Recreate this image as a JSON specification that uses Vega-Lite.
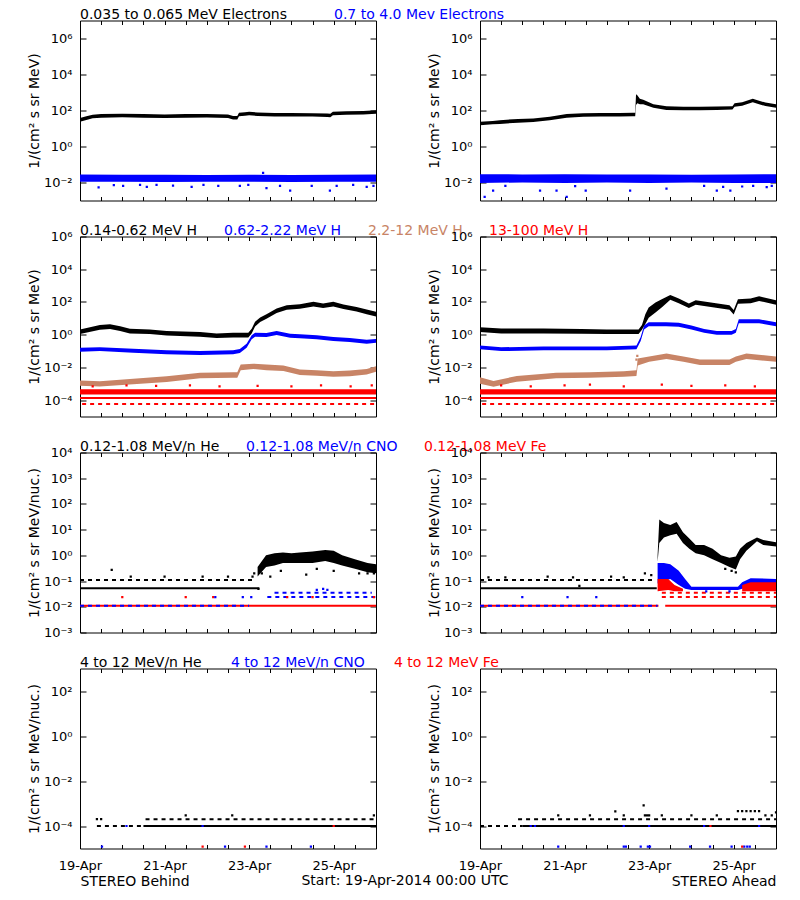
{
"$schema":"https://vega.github.io/schema/vega-lite/v6.json",
"background":"white",
"padding":{"left":26,"top":6.5,"right":5,"bottom":5},
"bounds":"flush",
"columns":2,
"spacing":{"row":36,"column":104},
"config":{"font":"DejaVu Sans","view":{"stroke":"#000000","strokeWidth":1},
"axis":{"grid":false,"domain":false,"tickColor":"#000000","tickWidth":1,"labelColor":"#000000","labelFontSize":13,"labelFont":"DejaVu Sans","titleFont":"DejaVu Sans","titleFontSize":14,"titleFontWeight":"normal","titleColor":"#000000","labelOverlap":false,"labelBound":false,"labelFlush":false},
"legend":{"labelFont":"DejaVu Sans"},
"title":{"font":"DejaVu Sans","fontSize":14,"fontWeight":"normal","color":"#000000"}},
"title":{"text":"Start: 19-Apr-2014 00:00 UTC","orient":"bottom","anchor":"middle","frame":"bounds","offset":-15,"dx":3},
"resolve":{"scale":{"color":"independent"},"legend":{"color":"independent"}},
"datasets":{
"bd":[
{"p":"B1","s":"eL","d":0,"lo":24,"hi":38},{"p":"B1","s":"eL","d":0.15,"lo":30,"hi":48},{"p":"B1","s":"eL","d":0.3,"lo":37,"hi":58},{"p":"B1","s":"eL","d":0.5,"lo":40,"hi":63},{"p":"B1","s":"eL","d":1,"lo":42,"hi":65},{"p":"B1","s":"eL","d":1.5,"lo":40,"hi":63},{"p":"B1","s":"eL","d":2,"lo":38,"hi":60},{"p":"B1","s":"eL","d":2.5,"lo":40,"hi":63},{"p":"B1","s":"eL","d":3,"lo":41,"hi":64},{"p":"B1","s":"eL","d":3.5,"lo":38,"hi":60},{"p":"B1","s":"eL","d":3.62,"lo":32,"hi":50},{"p":"B1","s":"eL","d":3.72,"lo":32,"hi":50},{"p":"B1","s":"eL","d":3.76,"lo":48,"hi":75},{"p":"B1","s":"eL","d":3.9,"lo":51,"hi":80},{"p":"B1","s":"eL","d":4,"lo":54,"hi":85},{"p":"B1","s":"eL","d":4.2,"lo":50,"hi":78},{"p":"B1","s":"eL","d":4.6,"lo":46,"hi":73},{"p":"B1","s":"eL","d":5,"lo":46,"hi":73},{"p":"B1","s":"eL","d":5.5,"lo":46,"hi":71},{"p":"B1","s":"eL","d":5.85,"lo":44,"hi":69},{"p":"B1","s":"eL","d":5.92,"lo":42,"hi":65},{"p":"B1","s":"eL","d":5.98,"lo":54,"hi":85},{"p":"B1","s":"eL","d":6.3,"lo":58,"hi":90},{"p":"B1","s":"eL","d":6.7,"lo":60,"hi":94},{"p":"B1","s":"eL","d":7,"lo":66,"hi":103},
{"p":"B1","s":"eH","d":0,"lo":0.011,"hi":0.028},{"p":"B1","s":"eH","d":1,"lo":0.011,"hi":0.027},{"p":"B1","s":"eH","d":2,"lo":0.0105,"hi":0.027},{"p":"B1","s":"eH","d":3,"lo":0.011,"hi":0.026},{"p":"B1","s":"eH","d":4,"lo":0.011,"hi":0.027},{"p":"B1","s":"eH","d":5,"lo":0.0105,"hi":0.026},{"p":"B1","s":"eH","d":6,"lo":0.011,"hi":0.027},{"p":"B1","s":"eH","d":7,"lo":0.011,"hi":0.028},
{"p":"A1","s":"eL","d":0,"lo":15,"hi":24},{"p":"A1","s":"eL","d":0.3,"lo":17,"hi":26},{"p":"A1","s":"eL","d":0.47,"lo":18,"hi":29},{"p":"A1","s":"eL","d":0.9,"lo":21,"hi":34},{"p":"A1","s":"eL","d":1.26,"lo":23,"hi":36},{"p":"A1","s":"eL","d":1.65,"lo":29,"hi":45},{"p":"A1","s":"eL","d":2.05,"lo":40,"hi":63},{"p":"A1","s":"eL","d":2.44,"lo":45,"hi":71},{"p":"A1","s":"eL","d":2.84,"lo":46,"hi":73},{"p":"A1","s":"eL","d":3.3,"lo":46,"hi":73},{"p":"A1","s":"eL","d":3.62,"lo":48,"hi":75},{"p":"A1","s":"eL","d":3.67,"lo":48,"hi":75},{"p":"A1","s":"eL","d":3.69,"lo":200,"hi":800},{"p":"A1","s":"eL","d":3.72,"lo":250,"hi":700},{"p":"A1","s":"eL","d":3.78,"lo":220,"hi":450},{"p":"A1","s":"eL","d":3.86,"lo":220,"hi":400},{"p":"A1","s":"eL","d":4.1,"lo":144,"hi":225},{"p":"A1","s":"eL","d":4.41,"lo":108,"hi":170},{"p":"A1","s":"eL","d":4.81,"lo":104,"hi":163},{"p":"A1","s":"eL","d":5.2,"lo":104,"hi":163},{"p":"A1","s":"eL","d":5.6,"lo":106,"hi":165},{"p":"A1","s":"eL","d":5.97,"lo":112,"hi":175},{"p":"A1","s":"eL","d":6.02,"lo":160,"hi":250},{"p":"A1","s":"eL","d":6.2,"lo":184,"hi":288},{"p":"A1","s":"eL","d":6.45,"lo":290,"hi":450},{"p":"A1","s":"eL","d":6.6,"lo":224,"hi":350},{"p":"A1","s":"eL","d":6.75,"lo":176,"hi":275},{"p":"A1","s":"eL","d":7,"lo":144,"hi":225},
{"p":"A1","s":"eH","d":0,"lo":0.0095,"hi":0.029},{"p":"A1","s":"eH","d":1,"lo":0.01,"hi":0.028},{"p":"A1","s":"eH","d":2,"lo":0.0095,"hi":0.029},{"p":"A1","s":"eH","d":3,"lo":0.01,"hi":0.028},{"p":"A1","s":"eH","d":4,"lo":0.0095,"hi":0.028},{"p":"A1","s":"eH","d":5,"lo":0.01,"hi":0.027},{"p":"A1","s":"eH","d":6,"lo":0.0095,"hi":0.028},{"p":"A1","s":"eH","d":7,"lo":0.0095,"hi":0.029},
{"p":"B2","s":"H1","d":0,"lo":1.1,"hi":2.1},{"p":"B2","s":"H1","d":0.47,"lo":2.0,"hi":3.9},{"p":"B2","s":"H1","d":0.71,"lo":2.2,"hi":4.3},{"p":"B2","s":"H1","d":0.95,"lo":1.7,"hi":3.3},{"p":"B2","s":"H1","d":1.18,"lo":1.2,"hi":2.3},{"p":"B2","s":"H1","d":1.65,"lo":1.1,"hi":2.1},{"p":"B2","s":"H1","d":2.05,"lo":0.9,"hi":1.7},{"p":"B2","s":"H1","d":2.84,"lo":0.76,"hi":1.45},{"p":"B2","s":"H1","d":3.23,"lo":0.63,"hi":1.2},{"p":"B2","s":"H1","d":3.62,"lo":0.68,"hi":1.3},{"p":"B2","s":"H1","d":3.98,"lo":0.68,"hi":1.3},{"p":"B2","s":"H1","d":4.06,"lo":1.2,"hi":2.3},{"p":"B2","s":"H1","d":4.14,"lo":3.2,"hi":6.1},{"p":"B2","s":"H1","d":4.26,"lo":5.9,"hi":11.3},{"p":"B2","s":"H1","d":4.41,"lo":9.4,"hi":18},{"p":"B2","s":"H1","d":4.65,"lo":21,"hi":40},{"p":"B2","s":"H1","d":4.89,"lo":33,"hi":63},{"p":"B2","s":"H1","d":5.2,"lo":38,"hi":73},{"p":"B2","s":"H1","d":5.52,"lo":53,"hi":102},{"p":"B2","s":"H1","d":5.75,"lo":42,"hi":81},{"p":"B2","s":"H1","d":5.99,"lo":53,"hi":102},{"p":"B2","s":"H1","d":6.23,"lo":37,"hi":70},{"p":"B2","s":"H1","d":6.54,"lo":26,"hi":50},{"p":"B2","s":"H1","d":6.78,"lo":18,"hi":35},{"p":"B2","s":"H1","d":7,"lo":13,"hi":25},
{"p":"B2","s":"H2","d":0,"lo":0.091,"hi":0.158},{"p":"B2","s":"H2","d":0.47,"lo":0.099,"hi":0.17},{"p":"B2","s":"H2","d":1.26,"lo":0.08,"hi":0.139},{"p":"B2","s":"H2","d":2.05,"lo":0.063,"hi":0.11},{"p":"B2","s":"H2","d":2.84,"lo":0.058,"hi":0.1},{"p":"B2","s":"H2","d":3.62,"lo":0.063,"hi":0.11},{"p":"B2","s":"H2","d":3.78,"lo":0.076,"hi":0.132},{"p":"B2","s":"H2","d":3.94,"lo":0.16,"hi":0.28},{"p":"B2","s":"H2","d":4.06,"lo":0.52,"hi":0.91},{"p":"B2","s":"H2","d":4.14,"lo":0.76,"hi":1.32},{"p":"B2","s":"H2","d":4.41,"lo":0.72,"hi":1.25},{"p":"B2","s":"H2","d":4.65,"lo":0.95,"hi":1.65},{"p":"B2","s":"H2","d":4.97,"lo":0.66,"hi":1.15},{"p":"B2","s":"H2","d":5.2,"lo":0.61,"hi":1.06},{"p":"B2","s":"H2","d":5.6,"lo":0.52,"hi":0.91},{"p":"B2","s":"H2","d":5.99,"lo":0.41,"hi":0.71},{"p":"B2","s":"H2","d":6.38,"lo":0.36,"hi":0.62},{"p":"B2","s":"H2","d":6.78,"lo":0.28,"hi":0.49},{"p":"B2","s":"H2","d":7,"lo":0.32,"hi":0.55},
{"p":"B2","s":"H3","d":0,"lo":0.00075,"hi":0.0016},{"p":"B2","s":"H3","d":0.47,"lo":0.00067,"hi":0.00145},{"p":"B2","s":"H3","d":1.26,"lo":0.00092,"hi":0.002},{"p":"B2","s":"H3","d":2.05,"lo":0.0013,"hi":0.0029},{"p":"B2","s":"H3","d":2.84,"lo":0.0022,"hi":0.0047},{"p":"B2","s":"H3","d":3.62,"lo":0.0023,"hi":0.005},{"p":"B2","s":"H3","d":3.72,"lo":0.0023,"hi":0.005},{"p":"B2","s":"H3","d":3.8,"lo":0.0068,"hi":0.0148},{"p":"B2","s":"H3","d":4.1,"lo":0.008,"hi":0.017},{"p":"B2","s":"H3","d":4.41,"lo":0.0068,"hi":0.0148},{"p":"B2","s":"H3","d":4.81,"lo":0.006,"hi":0.013},{"p":"B2","s":"H3","d":5.2,"lo":0.0034,"hi":0.0074},{"p":"B2","s":"H3","d":5.6,"lo":0.0031,"hi":0.0068},{"p":"B2","s":"H3","d":5.99,"lo":0.0027,"hi":0.0059},{"p":"B2","s":"H3","d":6.38,"lo":0.0029,"hi":0.0064},{"p":"B2","s":"H3","d":6.78,"lo":0.0037,"hi":0.0081},{"p":"B2","s":"H3","d":7,"lo":0.0054,"hi":0.0118},
{"p":"B2","s":"H4","d":0,"lo":0.00022,"hi":0.00046},{"p":"B2","s":"H4","d":7,"lo":0.00022,"hi":0.00046},
{"p":"A2","s":"H1","d":0,"lo":1.45,"hi":2.8},{"p":"A2","s":"H1","d":0.5,"lo":1.2,"hi":2.35},{"p":"A2","s":"H1","d":1.5,"lo":1.2,"hi":2.35},{"p":"A2","s":"H1","d":2.4,"lo":1.15,"hi":2.2},{"p":"A2","s":"H1","d":3,"lo":1.1,"hi":2.1},{"p":"A2","s":"H1","d":3.75,"lo":1.1,"hi":2.1},{"p":"A2","s":"H1","d":3.83,"lo":2.0,"hi":3.9},{"p":"A2","s":"H1","d":3.91,"lo":4.5,"hi":18},{"p":"A2","s":"H1","d":3.99,"lo":11,"hi":46},{"p":"A2","s":"H1","d":4.15,"lo":23,"hi":92},{"p":"A2","s":"H1","d":4.31,"lo":50,"hi":150},{"p":"A2","s":"H1","d":4.5,"lo":137,"hi":262},{"p":"A2","s":"H1","d":4.7,"lo":84,"hi":161},{"p":"A2","s":"H1","d":4.94,"lo":42,"hi":81},{"p":"A2","s":"H1","d":5.1,"lo":67,"hi":128},{"p":"A2","s":"H1","d":5.5,"lo":47,"hi":90},{"p":"A2","s":"H1","d":5.9,"lo":33,"hi":63},{"p":"A2","s":"H1","d":6,"lo":17,"hi":32},{"p":"A2","s":"H1","d":6.1,"lo":77,"hi":148},{"p":"A2","s":"H1","d":6.4,"lo":84,"hi":161},{"p":"A2","s":"H1","d":6.6,"lo":115,"hi":221},{"p":"A2","s":"H1","d":7,"lo":67,"hi":128},
{"p":"A2","s":"H2","d":0,"lo":0.13,"hi":0.22},{"p":"A2","s":"H2","d":0.5,"lo":0.1,"hi":0.17},{"p":"A2","s":"H2","d":1.5,"lo":0.11,"hi":0.19},{"p":"A2","s":"H2","d":3,"lo":0.11,"hi":0.19},{"p":"A2","s":"H2","d":3.7,"lo":0.13,"hi":0.22},{"p":"A2","s":"H2","d":3.8,"lo":0.41,"hi":0.71},{"p":"A2","s":"H2","d":3.88,"lo":2.1,"hi":3.7},{"p":"A2","s":"H2","d":3.99,"lo":3.3,"hi":5.8},{"p":"A2","s":"H2","d":4.4,"lo":3.3,"hi":5.8},{"p":"A2","s":"H2","d":4.7,"lo":3.0,"hi":5.3},{"p":"A2","s":"H2","d":5,"lo":2.1,"hi":3.7},{"p":"A2","s":"H2","d":5.3,"lo":1.3,"hi":2.2},{"p":"A2","s":"H2","d":5.6,"lo":1.0,"hi":1.7},{"p":"A2","s":"H2","d":5.95,"lo":1.0,"hi":1.7},{"p":"A2","s":"H2","d":6.05,"lo":1.3,"hi":2.2},{"p":"A2","s":"H2","d":6.12,"lo":5.0,"hi":8.7},{"p":"A2","s":"H2","d":6.6,"lo":5.0,"hi":8.7},{"p":"A2","s":"H2","d":7,"lo":3.3,"hi":5.8},
{"p":"A2","s":"H3","d":0,"lo":0.001,"hi":0.0025},{"p":"A2","s":"H3","d":0.32,"lo":0.00065,"hi":0.0015},{"p":"A2","s":"H3","d":0.87,"lo":0.00135,"hi":0.003},{"p":"A2","s":"H3","d":1.8,"lo":0.0022,"hi":0.0047},{"p":"A2","s":"H3","d":2.6,"lo":0.0023,"hi":0.005},{"p":"A2","s":"H3","d":3.4,"lo":0.0027,"hi":0.0059},{"p":"A2","s":"H3","d":3.7,"lo":0.003,"hi":0.0067},{"p":"A2","s":"H3","d":3.73,"lo":0.013,"hi":0.035},{"p":"A2","s":"H3","d":4,"lo":0.022,"hi":0.047},{"p":"A2","s":"H3","d":4.41,"lo":0.033,"hi":0.07},{"p":"A2","s":"H3","d":4.81,"lo":0.022,"hi":0.047},{"p":"A2","s":"H3","d":5.2,"lo":0.014,"hi":0.03},{"p":"A2","s":"H3","d":5.9,"lo":0.014,"hi":0.03},{"p":"A2","s":"H3","d":6.05,"lo":0.022,"hi":0.047},{"p":"A2","s":"H3","d":6.3,"lo":0.033,"hi":0.07},{"p":"A2","s":"H3","d":7,"lo":0.022,"hi":0.047},
{"p":"A2","s":"H4","d":0,"lo":0.00022,"hi":0.00046},{"p":"A2","s":"H4","d":7,"lo":0.00022,"hi":0.00046},
{"p":"B3","s":"He","d":4.2,"lo":0.15,"hi":0.35},{"p":"B3","s":"He","d":4.4,"lo":0.35,"hi":1.0},{"p":"B3","s":"He","d":4.6,"lo":0.4,"hi":1.2},{"p":"B3","s":"He","d":4.8,"lo":0.5,"hi":1.3},{"p":"B3","s":"He","d":5,"lo":0.5,"hi":1.2},{"p":"B3","s":"He","d":5.2,"lo":0.5,"hi":1.3},{"p":"B3","s":"He","d":5.5,"lo":0.5,"hi":1.4},{"p":"B3","s":"He","d":5.8,"lo":0.6,"hi":1.6},{"p":"B3","s":"He","d":6,"lo":0.5,"hi":1.5},{"p":"B3","s":"He","d":6.2,"lo":0.4,"hi":1.0},{"p":"B3","s":"He","d":6.5,"lo":0.3,"hi":0.7},{"p":"B3","s":"He","d":6.8,"lo":0.22,"hi":0.5},{"p":"B3","s":"He","d":7,"lo":0.2,"hi":0.45},
{"p":"A3","s":"He","d":4.2,"lo":0.55,"hi":1.0},{"p":"A3","s":"He","d":4.24,"lo":3,"hi":25},{"p":"A3","s":"He","d":4.35,"lo":5,"hi":18},{"p":"A3","s":"He","d":4.5,"lo":6,"hi":15},{"p":"A3","s":"He","d":4.65,"lo":7,"hi":20},{"p":"A3","s":"He","d":4.8,"lo":3,"hi":8},{"p":"A3","s":"He","d":4.95,"lo":1.8,"hi":4.5},{"p":"A3","s":"He","d":5.1,"lo":1.2,"hi":2.5},{"p":"A3","s":"He","d":5.3,"lo":1.0,"hi":2.5},{"p":"A3","s":"He","d":5.5,"lo":0.7,"hi":1.8},{"p":"A3","s":"He","d":5.7,"lo":0.5,"hi":1.0},{"p":"A3","s":"He","d":5.9,"lo":0.35,"hi":0.8},{"p":"A3","s":"He","d":6.05,"lo":0.28,"hi":0.9},{"p":"A3","s":"He","d":6.15,"lo":0.7,"hi":1.8},{"p":"A3","s":"He","d":6.3,"lo":1.5,"hi":3},{"p":"A3","s":"He","d":6.55,"lo":3.5,"hi":5},{"p":"A3","s":"He","d":6.7,"lo":2.5,"hi":4},{"p":"A3","s":"He","d":7,"lo":2.2,"hi":3.2},
{"p":"A3","s":"CNO","d":4.2,"lo":0.08,"hi":0.5},{"p":"A3","s":"CNO","d":4.35,"lo":0.1,"hi":0.5},{"p":"A3","s":"CNO","d":4.5,"lo":0.12,"hi":0.45},{"p":"A3","s":"CNO","d":4.7,"lo":0.07,"hi":0.25},{"p":"A3","s":"CNO","d":4.85,"lo":0.05,"hi":0.12},{"p":"A3","s":"CNO","d":5,"lo":0.045,"hi":0.06},{"p":"A3","s":"CNO","d":6.1,"lo":0.045,"hi":0.06},{"p":"A3","s":"CNO","d":6.2,"lo":0.05,"hi":0.09},{"p":"A3","s":"CNO","d":6.4,"lo":0.06,"hi":0.13},{"p":"A3","s":"CNO","d":7,"lo":0.06,"hi":0.12},
{"p":"A3","s":"Fe","c":"a","d":4.2,"lo":0.04,"hi":0.12},{"p":"A3","s":"Fe","c":"a","d":4.45,"lo":0.045,"hi":0.12},{"p":"A3","s":"Fe","c":"a","d":4.6,"lo":0.04,"hi":0.07},{"p":"A3","s":"Fe","c":"a","d":4.8,"lo":0.04,"hi":0.05},
{"p":"A3","s":"Fe","c":"b","d":6.2,"lo":0.04,"hi":0.07},{"p":"A3","s":"Fe","c":"b","d":6.4,"lo":0.04,"hi":0.09},{"p":"A3","s":"Fe","c":"b","d":7,"lo":0.04,"hi":0.09}
],
"ln":[
{"p":"B2","s":"H4","d":0,"v":0.000135},{"p":"B2","s":"H4","d":7,"v":0.000135},
{"p":"A2","s":"H4","d":0,"v":0.000135},{"p":"A2","s":"H4","d":7,"v":0.000135},
{"p":"B3","s":"He","d":0,"v":0.052},{"p":"B3","s":"He","d":4.24,"v":0.052},
{"p":"B3","s":"Fe","d":0,"v":0.011},{"p":"B3","s":"Fe","d":7,"v":0.011},
{"p":"A3","s":"He","d":0,"v":0.052},{"p":"A3","s":"He","d":4.18,"v":0.052},
{"p":"A3","s":"Fe","c":"l1","d":0,"v":0.011},{"p":"A3","s":"Fe","c":"l1","d":4.22,"v":0.011},
{"p":"A3","s":"Fe","c":"l2","d":4.38,"v":0.011},{"p":"A3","s":"Fe","c":"l2","d":7,"v":0.011},
{"p":"B4","s":"He","d":1.5,"v":0.0001},{"p":"B4","s":"He","d":7,"v":0.0001},
{"p":"A4","s":"He","d":1,"v":0.0001},{"p":"A4","s":"He","d":7,"v":0.0001}
],
"dl":[
{"p":"B2","s":"H4","d":0.05,"v":0.000059},{"p":"B2","s":"H4","d":7,"v":0.000059},
{"p":"A2","s":"H4","d":0.05,"v":0.000059},{"p":"A2","s":"H4","d":7,"v":0.000059},
{"p":"B3","s":"He","d":0,"v":0.11},{"p":"B3","s":"He","d":4.15,"v":0.11},
{"p":"B3","s":"CNO","c":"d1","d":0,"v":0.011},{"p":"B3","s":"CNO","c":"d1","d":4,"v":0.011},
{"p":"B3","s":"CNO","c":"d2","d":4.43,"v":0.024},{"p":"B3","s":"CNO","c":"d2","d":7,"v":0.024},
{"p":"B3","s":"CNO","c":"d3","d":4.6,"v":0.035},{"p":"B3","s":"CNO","c":"d3","d":6.9,"v":0.035},
{"p":"A3","s":"He","d":0,"v":0.11},{"p":"A3","s":"He","d":4.15,"v":0.11},
{"p":"A3","s":"CNO","d":0,"v":0.011},{"p":"A3","s":"CNO","d":4.2,"v":0.011},
{"p":"A3","s":"Fe","c":"d3","d":4.3,"v":0.035},{"p":"A3","s":"Fe","c":"d3","d":7,"v":0.035},
{"p":"A3","s":"Fe","c":"d4","d":4.3,"v":0.024},{"p":"A3","s":"Fe","c":"d4","d":7,"v":0.024},
{"p":"B4","s":"He","c":"d1","d":0.4,"v":0.0001},{"p":"B4","s":"He","c":"d1","d":1.5,"v":0.0001},
{"p":"B4","s":"He","c":"d2","d":1.55,"v":0.0002},{"p":"B4","s":"He","c":"d2","d":7,"v":0.0002},
{"p":"A4","s":"He","c":"d1","d":0,"v":0.0001},{"p":"A4","s":"He","c":"d1","d":1,"v":0.0001},
{"p":"A4","s":"He","c":"d2","d":0.9,"v":0.0002},{"p":"A4","s":"He","c":"d2","d":7,"v":0.0002}
],
"pt":[
{"p":"B1","s":"eH","d":0.44,"v":0.0053},{"p":"B1","s":"eH","d":0.8,"v":0.0072},{"p":"B1","s":"eH","d":1.02,"v":0.0065},{"p":"B1","s":"eH","d":1.42,"v":0.0074},{"p":"B1","s":"eH","d":1.58,"v":0.0058},{"p":"B1","s":"eH","d":1.81,"v":0.0074},{"p":"B1","s":"eH","d":2.2,"v":0.0068},{"p":"B1","s":"eH","d":2.64,"v":0.0058},{"p":"B1","s":"eH","d":2.92,"v":0.0074},{"p":"B1","s":"eH","d":3.27,"v":0.0065},{"p":"B1","s":"eH","d":3.78,"v":0.0065},{"p":"B1","s":"eH","d":3.98,"v":0.0074},{"p":"B1","s":"eH","d":4.33,"v":0.034},{"p":"B1","s":"eH","d":4.41,"v":0.0049},{"p":"B1","s":"eH","d":4.73,"v":0.0065},{"p":"B1","s":"eH","d":4.97,"v":0.0035},{"p":"B1","s":"eH","d":5.48,"v":0.0065},{"p":"B1","s":"eH","d":5.91,"v":0.0035},{"p":"B1","s":"eH","d":6.07,"v":0.0065},{"p":"B1","s":"eH","d":6.46,"v":0.0074},{"p":"B1","s":"eH","d":6.78,"v":0.0058},{"p":"B1","s":"eH","d":6.94,"v":0.0065},
{"p":"A1","s":"eH","d":0.11,"v":0.0016},{"p":"A1","s":"eH","d":0.31,"v":0.0035},{"p":"A1","s":"eH","d":0.6,"v":0.0065},{"p":"A1","s":"eH","d":1.42,"v":0.0035},{"p":"A1","s":"eH","d":1.81,"v":0.0035},{"p":"A1","s":"eH","d":2.05,"v":0.0016},{"p":"A1","s":"eH","d":2.25,"v":0.0062},{"p":"A1","s":"eH","d":2.5,"v":0.0035},{"p":"A1","s":"eH","d":3.55,"v":0.0035},{"p":"A1","s":"eH","d":4.41,"v":0.0045},{"p":"A1","s":"eH","d":5.3,"v":0.0065},{"p":"A1","s":"eH","d":5.6,"v":0.0035},{"p":"A1","s":"eH","d":5.75,"v":0.0058},{"p":"A1","s":"eH","d":5.92,"v":0.0035},{"p":"A1","s":"eH","d":6.2,"v":0.006},{"p":"A1","s":"eH","d":6.46,"v":0.0065},{"p":"A1","s":"eH","d":6.78,"v":0.0055},{"p":"A1","s":"eH","d":6.9,"v":0.0065},
{"p":"B2","s":"H4","d":0.3,"v":0.0007},{"p":"B2","s":"H4","d":1.1,"v":0.0008},{"p":"B2","s":"H4","d":1.8,"v":0.00075},{"p":"B2","s":"H4","d":2.6,"v":0.0008},{"p":"B2","s":"H4","d":3.3,"v":0.0007},{"p":"B2","s":"H4","d":4.2,"v":0.00075},{"p":"B2","s":"H4","d":5,"v":0.0007},{"p":"B2","s":"H4","d":5.7,"v":0.0008},{"p":"B2","s":"H4","d":6.4,"v":0.0007},{"p":"B2","s":"H4","d":6.9,"v":0.0008},
{"p":"A2","s":"H4","d":0.5,"v":0.0008},{"p":"A2","s":"H4","d":1.2,"v":0.0007},{"p":"A2","s":"H4","d":2,"v":0.0008},{"p":"A2","s":"H4","d":2.6,"v":0.0009},{"p":"A2","s":"H4","d":3.4,"v":0.0007},{"p":"A2","s":"H4","d":4.3,"v":0.0009},{"p":"A2","s":"H4","d":5,"v":0.00075},{"p":"A2","s":"H4","d":5.8,"v":0.0008},{"p":"A2","s":"H4","d":6.5,"v":0.0007},
{"p":"A2","s":"H3","d":3.7,"v":0.03},{"p":"A2","s":"H3","d":3.72,"v":0.05},
{"p":"B3","s":"He","d":0.75,"v":0.27},{"p":"B3","s":"He","d":1.2,"v":0.15},{"p":"B3","s":"He","d":2,"v":0.15},{"p":"B3","s":"He","d":2.9,"v":0.15},{"p":"B3","s":"He","d":3.5,"v":0.15},{"p":"B3","s":"He","d":4.08,"v":0.15},{"p":"B3","s":"He","d":4.12,"v":0.2},{"p":"B3","s":"He","d":4.22,"v":0.05},{"p":"B3","s":"He","d":4.3,"v":0.2},{"p":"B3","s":"He","d":4.5,"v":0.15},{"p":"B3","s":"He","d":4.75,"v":0.25},{"p":"B3","s":"He","d":5.35,"v":0.18},{"p":"B3","s":"He","d":5.6,"v":0.3},{"p":"B3","s":"He","d":6,"v":0.25},{"p":"B3","s":"He","d":6.6,"v":0.2},{"p":"B3","s":"He","d":6.8,"v":0.2},{"p":"B3","s":"He","d":6.95,"v":0.2},
{"p":"B3","s":"Fe","d":1,"v":0.024},{"p":"B3","s":"Fe","d":2.5,"v":0.024},{"p":"B3","s":"Fe","d":3.15,"v":0.024},{"p":"B3","s":"Fe","d":4.9,"v":0.024},{"p":"B3","s":"Fe","d":5.5,"v":0.024},{"p":"B3","s":"Fe","d":6.95,"v":0.024},
{"p":"B3","s":"CNO","d":3.2,"v":0.024},{"p":"B3","s":"CNO","d":3.85,"v":0.024},{"p":"B3","s":"CNO","d":4.05,"v":0.024},{"p":"B3","s":"CNO","d":5.6,"v":0.045},{"p":"B3","s":"CNO","d":5.75,"v":0.05},{"p":"B3","s":"CNO","d":5.85,"v":0.045},
{"p":"A3","s":"He","d":0.2,"v":0.14},{"p":"A3","s":"He","d":0.6,"v":0.14},{"p":"A3","s":"He","d":1.6,"v":0.15},{"p":"A3","s":"He","d":2.2,"v":0.14},{"p":"A3","s":"He","d":2.35,"v":0.065},{"p":"A3","s":"He","d":3.1,"v":0.15},{"p":"A3","s":"He","d":3.4,"v":0.14},{"p":"A3","s":"He","d":3.9,"v":0.2},{"p":"A3","s":"He","d":4.05,"v":0.17},{"p":"A3","s":"He","d":5.8,"v":0.3},{"p":"A3","s":"He","d":5.95,"v":0.25},{"p":"A3","s":"He","d":6.05,"v":0.22},
{"p":"A3","s":"CNO","d":1,"v":0.024},{"p":"A3","s":"CNO","d":2.07,"v":0.024},{"p":"A3","s":"CNO","d":2.75,"v":0.024},{"p":"A3","s":"CNO","d":5.35,"v":0.04},{"p":"A3","s":"CNO","d":5.9,"v":0.04},
{"p":"B4","s":"He","d":0.4,"v":0.0002},{"p":"B4","s":"He","d":0.5,"v":0.0002},{"p":"B4","s":"He","d":2.5,"v":0.0003},{"p":"B4","s":"He","d":3.6,"v":0.0003},{"p":"B4","s":"He","d":6.95,"v":0.0003},
{"p":"B4","s":"CNO","d":0.52,"v":0.000012},{"p":"B4","s":"CNO","d":3.43,"v":0.000012},{"p":"B4","s":"CNO","d":4.41,"v":0.000012},{"p":"B4","s":"CNO","d":5.46,"v":0.000012},{"p":"B4","s":"CNO","d":1.1,"v":0.0001},{"p":"B4","s":"CNO","d":2.9,"v":0.0001},
{"p":"B4","s":"Fe","d":2.9,"v":0.000012},{"p":"B4","s":"Fe","d":3.9,"v":0.000012},{"p":"B4","s":"Fe","d":6,"v":0.0001},
{"p":"A4","s":"He","d":1.85,"v":0.0003},{"p":"A4","s":"He","d":2.6,"v":0.0003},{"p":"A4","s":"He","d":3.2,"v":0.00045},{"p":"A4","s":"He","d":3.4,"v":0.0003},{"p":"A4","s":"He","d":3.87,"v":0.00082},{"p":"A4","s":"He","d":3.9,"v":0.0003},{"p":"A4","s":"He","d":3.95,"v":0.0003},{"p":"A4","s":"He","d":4,"v":0.0003},{"p":"A4","s":"He","d":4.3,"v":0.0003},{"p":"A4","s":"He","d":5,"v":0.0003},{"p":"A4","s":"He","d":5.6,"v":0.0003},{"p":"A4","s":"He","d":6.1,"v":0.00046},{"p":"A4","s":"He","d":6.2,"v":0.00046},{"p":"A4","s":"He","d":6.3,"v":0.00046},{"p":"A4","s":"He","d":6.4,"v":0.00046},{"p":"A4","s":"He","d":6.5,"v":0.00046},{"p":"A4","s":"He","d":6.6,"v":0.00046},{"p":"A4","s":"He","d":6.75,"v":0.0003},{"p":"A4","s":"He","d":6.9,"v":0.0003},{"p":"A4","s":"He","d":7,"v":0.0004},
{"p":"A4","s":"CNO","d":1.85,"v":0.000012},{"p":"A4","s":"CNO","d":3.4,"v":0.000012},{"p":"A4","s":"CNO","d":3.45,"v":0.000012},{"p":"A4","s":"CNO","d":3.8,"v":0.000012},{"p":"A4","s":"CNO","d":3.97,"v":0.000012},{"p":"A4","s":"CNO","d":4.02,"v":0.000012},{"p":"A4","s":"CNO","d":4.97,"v":0.000012},{"p":"A4","s":"CNO","d":5.44,"v":0.000012},{"p":"A4","s":"CNO","d":5.95,"v":0.000012},{"p":"A4","s":"CNO","d":6.25,"v":0.000012},{"p":"A4","s":"CNO","d":6.32,"v":0.000012},{"p":"A4","s":"CNO","d":6.38,"v":0.000012},{"p":"A4","s":"CNO","d":1.2,"v":0.0001},{"p":"A4","s":"CNO","d":1.3,"v":0.0001},{"p":"A4","s":"CNO","d":3.4,"v":0.0001},{"p":"A4","s":"CNO","d":4,"v":0.0001},{"p":"A4","s":"CNO","d":5.3,"v":0.0001},{"p":"A4","s":"CNO","d":6.6,"v":0.0001},
{"p":"A4","s":"Fe","d":6.2,"v":0.000012},{"p":"A4","s":"Fe","d":5.45,"v":0.0001}
]
},
"concat":[
{"width":296,"height":180,"layer":[
{"data":{"name":"bd"},"transform":[{"filter":"datum.p=='B1'"}],"mark":{"type":"area","clip":true},"encoding":{
"x":{"field":"d","type":"quantitative","scale":{"domain":[0,7],"nice":false,"zero":false},"axis":{"orient":"bottom","values":[0,0.5,1,1.5,2,2.5,3,3.5,4,4.5,5,5.5,6,6.5,7],"tickSize":-4,"labels":false,"title":null}},
"y":{"field":"lo","type":"quantitative","scale":{"type":"log","domain":[0.001,10000000],"nice":false},"axis":{"orient":"left","values":[0.01,1,100,10000,1000000],"tickSize":-6,"labelPadding":14,"labelExpr":"'10' + replace(replace(replace(replace(replace(replace(replace(replace(replace(''+round(log(datum.value)/LN10),'-','⁻'),'0','⁰'),'1','¹'),'2','²'),'3','³'),'4','⁴'),'5','⁵'),'6','⁶'),'7','⁷')","title":"1/(cm² s sr MeV)","titlePadding":2}},
"y2":{"field":"hi"},
"color":{"field":"s","type":"nominal","scale":{"domain":["eL","eH"],"range":["#000000","#0000ff"]},"legend":{"orient":"none","legendX":-14,"legendY":-13,"direction":"horizontal","title":null,"symbolSize":0,"symbolOpacity":0,"symbolStrokeWidth":0,"labelOffset":0,"columnPadding":33,"padding":0,"labelFontSize":14,"labelLimit":500,"labelExpr":"datum.value == 'eL' ? '0.035 to 0.065 MeV Electrons' : '0.7 to 4.0 Mev Electrons'","labelColor":{"expr":"indexof(['eH','H2','CNO'], datum.value) >= 0 ? '#0000ff' : datum.value == 'H3' ? '#c88466' : indexof(['H4','Fe'], datum.value) >= 0 ? '#ff0000' : '#000000'"}}},
"detail":{"field":"c"}}},
{"data":{"name":"ln"},"transform":[{"filter":"datum.p=='B1'"}],"mark":{"type":"line","strokeWidth":2,"clip":true},"encoding":{"x":{"field":"d","type":"quantitative","scale":{"domain":[0,7],"nice":false,"zero":false},"axis":null},"y":{"field":"v","type":"quantitative","scale":{"type":"log","domain":[0.001,10000000],"nice":false},"axis":null},"color":{"field":"s","type":"nominal","scale":{"domain":["eL","eH"],"range":["#000000","#0000ff"]}},"detail":{"field":"c"}}},
{"data":{"name":"dl"},"transform":[{"filter":"datum.p=='B1'"}],"mark":{"type":"line","strokeWidth":2,"strokeDash":[4,4],"clip":true},"encoding":{"x":{"field":"d","type":"quantitative","scale":{"domain":[0,7],"nice":false,"zero":false},"axis":null},"y":{"field":"v","type":"quantitative","scale":{"type":"log","domain":[0.001,10000000],"nice":false},"axis":null},"color":{"field":"s","type":"nominal","scale":{"domain":["eL","eH"],"range":["#000000","#0000ff"]}},"detail":{"field":"c"}}},
{"data":{"name":"pt"},"transform":[{"filter":"datum.p=='B1'"}],"mark":{"type":"square","size":5,"opacity":1,"clip":true},"encoding":{"x":{"field":"d","type":"quantitative","scale":{"domain":[0,7],"nice":false,"zero":false},"axis":{"orient":"top","values":[0,0.5,1,1.5,2,2.5,3,3.5,4,4.5,5,5.5,6,6.5,7],"tickSize":-4,"labels":false,"title":null}},"y":{"field":"v","type":"quantitative","scale":{"type":"log","domain":[0.001,10000000],"nice":false},"axis":{"orient":"right","values":[0.01,1,100,10000,1000000],"tickSize":-6,"labels":false,"title":null}},"color":{"field":"s","type":"nominal","scale":{"domain":["eL","eH"],"range":["#000000","#0000ff"]}}}}
],"resolve":{"axis":{"x":"independent","y":"independent"}}},
{"width":296,"height":180,"layer":[
{"data":{"name":"bd"},"transform":[{"filter":"datum.p=='A1'"}],"mark":{"type":"area","clip":true},"encoding":{
"x":{"field":"d","type":"quantitative","scale":{"domain":[0,7],"nice":false,"zero":false},"axis":{"orient":"bottom","values":[0,0.5,1,1.5,2,2.5,3,3.5,4,4.5,5,5.5,6,6.5,7],"tickSize":-4,"labels":false,"title":null}},
"y":{"field":"lo","type":"quantitative","scale":{"type":"log","domain":[0.001,10000000],"nice":false},"axis":{"orient":"left","values":[0.01,1,100,10000,1000000],"tickSize":-6,"labelPadding":14,"labelExpr":"'10' + replace(replace(replace(replace(replace(replace(replace(replace(replace(''+round(log(datum.value)/LN10),'-','⁻'),'0','⁰'),'1','¹'),'2','²'),'3','³'),'4','⁴'),'5','⁵'),'6','⁶'),'7','⁷')","title":"1/(cm² s sr MeV)","titlePadding":2}},
"y2":{"field":"hi"},
"color":{"field":"s","type":"nominal","scale":{"domain":["eL","eH"],"range":["#000000","#0000ff"]},"legend":null},
"detail":{"field":"c"}}},
{"data":{"name":"ln"},"transform":[{"filter":"datum.p=='A1'"}],"mark":{"type":"line","strokeWidth":2,"clip":true},"encoding":{"x":{"field":"d","type":"quantitative","scale":{"domain":[0,7],"nice":false,"zero":false},"axis":null},"y":{"field":"v","type":"quantitative","scale":{"type":"log","domain":[0.001,10000000],"nice":false},"axis":null},"color":{"field":"s","type":"nominal","scale":{"domain":["eL","eH"],"range":["#000000","#0000ff"]},"legend":null},"detail":{"field":"c"}}},
{"data":{"name":"dl"},"transform":[{"filter":"datum.p=='A1'"}],"mark":{"type":"line","strokeWidth":2,"strokeDash":[4,4],"clip":true},"encoding":{"x":{"field":"d","type":"quantitative","scale":{"domain":[0,7],"nice":false,"zero":false},"axis":null},"y":{"field":"v","type":"quantitative","scale":{"type":"log","domain":[0.001,10000000],"nice":false},"axis":null},"color":{"field":"s","type":"nominal","scale":{"domain":["eL","eH"],"range":["#000000","#0000ff"]},"legend":null},"detail":{"field":"c"}}},
{"data":{"name":"pt"},"transform":[{"filter":"datum.p=='A1'"}],"mark":{"type":"square","size":5,"opacity":1,"clip":true},"encoding":{"x":{"field":"d","type":"quantitative","scale":{"domain":[0,7],"nice":false,"zero":false},"axis":{"orient":"top","values":[0,0.5,1,1.5,2,2.5,3,3.5,4,4.5,5,5.5,6,6.5,7],"tickSize":-4,"labels":false,"title":null}},"y":{"field":"v","type":"quantitative","scale":{"type":"log","domain":[0.001,10000000],"nice":false},"axis":{"orient":"right","values":[0.01,1,100,10000,1000000],"tickSize":-6,"labels":false,"title":null}},"color":{"field":"s","type":"nominal","scale":{"domain":["eL","eH"],"range":["#000000","#0000ff"]},"legend":null}}}
],"resolve":{"axis":{"x":"independent","y":"independent"}}},
{"width":296,"height":180,"layer":[
{"data":{"name":"bd"},"transform":[{"filter":"datum.p=='B2'"}],"mark":{"type":"area","clip":true},"encoding":{
"x":{"field":"d","type":"quantitative","scale":{"domain":[0,7],"nice":false,"zero":false},"axis":{"orient":"bottom","values":[0,0.5,1,1.5,2,2.5,3,3.5,4,4.5,5,5.5,6,6.5,7],"tickSize":-4,"labels":false,"title":null}},
"y":{"field":"lo","type":"quantitative","scale":{"type":"log","domain":[0.00001,1000000],"nice":false},"axis":{"orient":"left","values":[0.0001,0.01,1,100,10000,1000000],"tickSize":-6,"labelPadding":14,"labelExpr":"'10' + replace(replace(replace(replace(replace(replace(replace(replace(replace(''+round(log(datum.value)/LN10),'-','⁻'),'0','⁰'),'1','¹'),'2','²'),'3','³'),'4','⁴'),'5','⁵'),'6','⁶'),'7','⁷')","title":"1/(cm² s sr MeV)","titlePadding":2}},
"y2":{"field":"hi"},
"color":{"field":"s","type":"nominal","scale":{"domain":["H1","H2","H3","H4"],"range":["#000000","#0000ff","#c88466","#ff0000"]},"legend":{"orient":"none","legendX":-14,"legendY":-13,"direction":"horizontal","title":null,"symbolSize":0,"symbolOpacity":0,"symbolStrokeWidth":0,"labelOffset":0,"columnPadding":12,"padding":0,"labelFontSize":14,"labelLimit":500,"labelExpr":"datum.value == 'H1' ? '0.14-0.62 MeV H' : datum.value == 'H2' ? '0.62-2.22 MeV H' : datum.value == 'H3' ? '2.2-12 MeV H' : '13-100 MeV H'","labelColor":{"expr":"indexof(['eH','H2','CNO'], datum.value) >= 0 ? '#0000ff' : datum.value == 'H3' ? '#c88466' : indexof(['H4','Fe'], datum.value) >= 0 ? '#ff0000' : '#000000'"}}},
"detail":{"field":"c"}}},
{"data":{"name":"ln"},"transform":[{"filter":"datum.p=='B2'"}],"mark":{"type":"line","strokeWidth":2,"clip":true},"encoding":{"x":{"field":"d","type":"quantitative","scale":{"domain":[0,7],"nice":false,"zero":false},"axis":null},"y":{"field":"v","type":"quantitative","scale":{"type":"log","domain":[0.00001,1000000],"nice":false},"axis":null},"color":{"field":"s","type":"nominal","scale":{"domain":["H1","H2","H3","H4"],"range":["#000000","#0000ff","#c88466","#ff0000"]}},"detail":{"field":"c"}}},
{"data":{"name":"dl"},"transform":[{"filter":"datum.p=='B2'"}],"mark":{"type":"line","strokeWidth":2,"strokeDash":[4,4],"clip":true},"encoding":{"x":{"field":"d","type":"quantitative","scale":{"domain":[0,7],"nice":false,"zero":false},"axis":null},"y":{"field":"v","type":"quantitative","scale":{"type":"log","domain":[0.00001,1000000],"nice":false},"axis":null},"color":{"field":"s","type":"nominal","scale":{"domain":["H1","H2","H3","H4"],"range":["#000000","#0000ff","#c88466","#ff0000"]}},"detail":{"field":"c"}}},
{"data":{"name":"pt"},"transform":[{"filter":"datum.p=='B2'"}],"mark":{"type":"square","size":5,"opacity":1,"clip":true},"encoding":{"x":{"field":"d","type":"quantitative","scale":{"domain":[0,7],"nice":false,"zero":false},"axis":{"orient":"top","values":[0,0.5,1,1.5,2,2.5,3,3.5,4,4.5,5,5.5,6,6.5,7],"tickSize":-4,"labels":false,"title":null}},"y":{"field":"v","type":"quantitative","scale":{"type":"log","domain":[0.00001,1000000],"nice":false},"axis":{"orient":"right","values":[0.0001,0.01,1,100,10000,1000000],"tickSize":-6,"labels":false,"title":null}},"color":{"field":"s","type":"nominal","scale":{"domain":["H1","H2","H3","H4"],"range":["#000000","#0000ff","#c88466","#ff0000"]}}}}
],"resolve":{"axis":{"x":"independent","y":"independent"}}},
{"width":296,"height":180,"layer":[
{"data":{"name":"bd"},"transform":[{"filter":"datum.p=='A2'"}],"mark":{"type":"area","clip":true},"encoding":{
"x":{"field":"d","type":"quantitative","scale":{"domain":[0,7],"nice":false,"zero":false},"axis":{"orient":"bottom","values":[0,0.5,1,1.5,2,2.5,3,3.5,4,4.5,5,5.5,6,6.5,7],"tickSize":-4,"labels":false,"title":null}},
"y":{"field":"lo","type":"quantitative","scale":{"type":"log","domain":[0.00001,1000000],"nice":false},"axis":{"orient":"left","values":[0.0001,0.01,1,100,10000,1000000],"tickSize":-6,"labelPadding":14,"labelExpr":"'10' + replace(replace(replace(replace(replace(replace(replace(replace(replace(''+round(log(datum.value)/LN10),'-','⁻'),'0','⁰'),'1','¹'),'2','²'),'3','³'),'4','⁴'),'5','⁵'),'6','⁶'),'7','⁷')","title":"1/(cm² s sr MeV)","titlePadding":2}},
"y2":{"field":"hi"},
"color":{"field":"s","type":"nominal","scale":{"domain":["H1","H2","H3","H4"],"range":["#000000","#0000ff","#c88466","#ff0000"]},"legend":null},
"detail":{"field":"c"}}},
{"data":{"name":"ln"},"transform":[{"filter":"datum.p=='A2'"}],"mark":{"type":"line","strokeWidth":2,"clip":true},"encoding":{"x":{"field":"d","type":"quantitative","scale":{"domain":[0,7],"nice":false,"zero":false},"axis":null},"y":{"field":"v","type":"quantitative","scale":{"type":"log","domain":[0.00001,1000000],"nice":false},"axis":null},"color":{"field":"s","type":"nominal","scale":{"domain":["H1","H2","H3","H4"],"range":["#000000","#0000ff","#c88466","#ff0000"]},"legend":null},"detail":{"field":"c"}}},
{"data":{"name":"dl"},"transform":[{"filter":"datum.p=='A2'"}],"mark":{"type":"line","strokeWidth":2,"strokeDash":[4,4],"clip":true},"encoding":{"x":{"field":"d","type":"quantitative","scale":{"domain":[0,7],"nice":false,"zero":false},"axis":null},"y":{"field":"v","type":"quantitative","scale":{"type":"log","domain":[0.00001,1000000],"nice":false},"axis":null},"color":{"field":"s","type":"nominal","scale":{"domain":["H1","H2","H3","H4"],"range":["#000000","#0000ff","#c88466","#ff0000"]},"legend":null},"detail":{"field":"c"}}},
{"data":{"name":"pt"},"transform":[{"filter":"datum.p=='A2'"}],"mark":{"type":"square","size":5,"opacity":1,"clip":true},"encoding":{"x":{"field":"d","type":"quantitative","scale":{"domain":[0,7],"nice":false,"zero":false},"axis":{"orient":"top","values":[0,0.5,1,1.5,2,2.5,3,3.5,4,4.5,5,5.5,6,6.5,7],"tickSize":-4,"labels":false,"title":null}},"y":{"field":"v","type":"quantitative","scale":{"type":"log","domain":[0.00001,1000000],"nice":false},"axis":{"orient":"right","values":[0.0001,0.01,1,100,10000,1000000],"tickSize":-6,"labels":false,"title":null}},"color":{"field":"s","type":"nominal","scale":{"domain":["H1","H2","H3","H4"],"range":["#000000","#0000ff","#c88466","#ff0000"]},"legend":null}}}
],"resolve":{"axis":{"x":"independent","y":"independent"}}},
{"width":296,"height":180,"layer":[
{"data":{"name":"bd"},"transform":[{"filter":"datum.p=='B3'"}],"mark":{"type":"area","clip":true},"encoding":{
"x":{"field":"d","type":"quantitative","scale":{"domain":[0,7],"nice":false,"zero":false},"axis":{"orient":"bottom","values":[0,0.5,1,1.5,2,2.5,3,3.5,4,4.5,5,5.5,6,6.5,7],"tickSize":-4,"labels":false,"title":null}},
"y":{"field":"lo","type":"quantitative","scale":{"type":"log","domain":[0.001,10000],"nice":false},"axis":{"orient":"left","values":[0.001,0.01,0.1,1,10,100,1000,10000],"tickSize":-6,"labelPadding":14,"labelExpr":"'10' + replace(replace(replace(replace(replace(replace(replace(replace(replace(''+round(log(datum.value)/LN10),'-','⁻'),'0','⁰'),'1','¹'),'2','²'),'3','³'),'4','⁴'),'5','⁵'),'6','⁶'),'7','⁷')","title":"1/(cm² s sr MeV/nuc.)","titlePadding":2}},
"y2":{"field":"hi"},
"color":{"field":"s","type":"nominal","scale":{"domain":["He","CNO","Fe"],"range":["#000000","#0000ff","#ff0000"]},"legend":{"orient":"none","legendX":-14,"legendY":-13,"direction":"horizontal","title":null,"symbolSize":0,"symbolOpacity":0,"symbolStrokeWidth":0,"labelOffset":0,"columnPadding":12,"padding":0,"labelFontSize":14,"labelLimit":500,"labelExpr":"datum.value == 'He' ? '0.12-1.08 MeV/n He' : datum.value == 'CNO' ? '0.12-1.08 MeV/n CNO' : '0.12-1.08 MeV Fe'","labelColor":{"expr":"indexof(['eH','H2','CNO'], datum.value) >= 0 ? '#0000ff' : datum.value == 'H3' ? '#c88466' : indexof(['H4','Fe'], datum.value) >= 0 ? '#ff0000' : '#000000'"}}},
"detail":{"field":"c"}}},
{"data":{"name":"ln"},"transform":[{"filter":"datum.p=='B3'"}],"mark":{"type":"line","strokeWidth":2,"clip":true},"encoding":{"x":{"field":"d","type":"quantitative","scale":{"domain":[0,7],"nice":false,"zero":false},"axis":null},"y":{"field":"v","type":"quantitative","scale":{"type":"log","domain":[0.001,10000],"nice":false},"axis":null},"color":{"field":"s","type":"nominal","scale":{"domain":["He","CNO","Fe"],"range":["#000000","#0000ff","#ff0000"]}},"detail":{"field":"c"}}},
{"data":{"name":"dl"},"transform":[{"filter":"datum.p=='B3'"}],"mark":{"type":"line","strokeWidth":2,"strokeDash":[4,4],"clip":true},"encoding":{"x":{"field":"d","type":"quantitative","scale":{"domain":[0,7],"nice":false,"zero":false},"axis":null},"y":{"field":"v","type":"quantitative","scale":{"type":"log","domain":[0.001,10000],"nice":false},"axis":null},"color":{"field":"s","type":"nominal","scale":{"domain":["He","CNO","Fe"],"range":["#000000","#0000ff","#ff0000"]}},"detail":{"field":"c"}}},
{"data":{"name":"pt"},"transform":[{"filter":"datum.p=='B3'"}],"mark":{"type":"square","size":5,"opacity":1,"clip":true},"encoding":{"x":{"field":"d","type":"quantitative","scale":{"domain":[0,7],"nice":false,"zero":false},"axis":{"orient":"top","values":[0,0.5,1,1.5,2,2.5,3,3.5,4,4.5,5,5.5,6,6.5,7],"tickSize":-4,"labels":false,"title":null}},"y":{"field":"v","type":"quantitative","scale":{"type":"log","domain":[0.001,10000],"nice":false},"axis":{"orient":"right","values":[0.001,0.01,0.1,1,10,100,1000,10000],"tickSize":-6,"labels":false,"title":null}},"color":{"field":"s","type":"nominal","scale":{"domain":["He","CNO","Fe"],"range":["#000000","#0000ff","#ff0000"]}}}}
],"resolve":{"axis":{"x":"independent","y":"independent"}}},
{"width":296,"height":180,"layer":[
{"data":{"name":"bd"},"transform":[{"filter":"datum.p=='A3'"}],"mark":{"type":"area","clip":true},"encoding":{
"x":{"field":"d","type":"quantitative","scale":{"domain":[0,7],"nice":false,"zero":false},"axis":{"orient":"bottom","values":[0,0.5,1,1.5,2,2.5,3,3.5,4,4.5,5,5.5,6,6.5,7],"tickSize":-4,"labels":false,"title":null}},
"y":{"field":"lo","type":"quantitative","scale":{"type":"log","domain":[0.001,10000],"nice":false},"axis":{"orient":"left","values":[0.001,0.01,0.1,1,10,100,1000,10000],"tickSize":-6,"labelPadding":14,"labelExpr":"'10' + replace(replace(replace(replace(replace(replace(replace(replace(replace(''+round(log(datum.value)/LN10),'-','⁻'),'0','⁰'),'1','¹'),'2','²'),'3','³'),'4','⁴'),'5','⁵'),'6','⁶'),'7','⁷')","title":"1/(cm² s sr MeV/nuc.)","titlePadding":2}},
"y2":{"field":"hi"},
"color":{"field":"s","type":"nominal","scale":{"domain":["He","CNO","Fe"],"range":["#000000","#0000ff","#ff0000"]},"legend":null},
"detail":{"field":"c"}}},
{"data":{"name":"ln"},"transform":[{"filter":"datum.p=='A3'"}],"mark":{"type":"line","strokeWidth":2,"clip":true},"encoding":{"x":{"field":"d","type":"quantitative","scale":{"domain":[0,7],"nice":false,"zero":false},"axis":null},"y":{"field":"v","type":"quantitative","scale":{"type":"log","domain":[0.001,10000],"nice":false},"axis":null},"color":{"field":"s","type":"nominal","scale":{"domain":["He","CNO","Fe"],"range":["#000000","#0000ff","#ff0000"]},"legend":null},"detail":{"field":"c"}}},
{"data":{"name":"dl"},"transform":[{"filter":"datum.p=='A3'"}],"mark":{"type":"line","strokeWidth":2,"strokeDash":[4,4],"clip":true},"encoding":{"x":{"field":"d","type":"quantitative","scale":{"domain":[0,7],"nice":false,"zero":false},"axis":null},"y":{"field":"v","type":"quantitative","scale":{"type":"log","domain":[0.001,10000],"nice":false},"axis":null},"color":{"field":"s","type":"nominal","scale":{"domain":["He","CNO","Fe"],"range":["#000000","#0000ff","#ff0000"]},"legend":null},"detail":{"field":"c"}}},
{"data":{"name":"pt"},"transform":[{"filter":"datum.p=='A3'"}],"mark":{"type":"square","size":5,"opacity":1,"clip":true},"encoding":{"x":{"field":"d","type":"quantitative","scale":{"domain":[0,7],"nice":false,"zero":false},"axis":{"orient":"top","values":[0,0.5,1,1.5,2,2.5,3,3.5,4,4.5,5,5.5,6,6.5,7],"tickSize":-4,"labels":false,"title":null}},"y":{"field":"v","type":"quantitative","scale":{"type":"log","domain":[0.001,10000],"nice":false},"axis":{"orient":"right","values":[0.001,0.01,0.1,1,10,100,1000,10000],"tickSize":-6,"labels":false,"title":null}},"color":{"field":"s","type":"nominal","scale":{"domain":["He","CNO","Fe"],"range":["#000000","#0000ff","#ff0000"]},"legend":null}}}
],"resolve":{"axis":{"x":"independent","y":"independent"}}},
{"width":296,"height":180,"layer":[
{"data":{"name":"bd"},"transform":[{"filter":"datum.p=='B4'"}],"mark":{"type":"area","clip":true},"encoding":{
"x":{"field":"d","type":"quantitative","scale":{"domain":[0,7],"nice":false,"zero":false},"axis":{"orient":"bottom","values":[0,0.5,1,1.5,2,2.5,3,3.5,4,4.5,5,5.5,6,6.5,7],"tickSize":-4,"labelPadding":15,"labelFontSize":13,"labelExpr":"datum.value == 0 ? '19-Apr' : datum.value == 2 ? '21-Apr' : datum.value == 4 ? '23-Apr' : datum.value == 6 ? '25-Apr' : ''","title":"STEREO Behind","titleAnchor":"start","titlePadding":2}},
"y":{"field":"lo","type":"quantitative","scale":{"type":"log","domain":[0.00001,1000],"nice":false},"axis":{"orient":"left","values":[0.0001,0.01,1,100],"tickSize":-6,"labelPadding":14,"labelExpr":"'10' + replace(replace(replace(replace(replace(replace(replace(replace(replace(''+round(log(datum.value)/LN10),'-','⁻'),'0','⁰'),'1','¹'),'2','²'),'3','³'),'4','⁴'),'5','⁵'),'6','⁶'),'7','⁷')","title":"1/(cm² s sr MeV/nuc.)","titlePadding":2}},
"y2":{"field":"hi"},
"color":{"field":"s","type":"nominal","scale":{"domain":["He","CNO","Fe"],"range":["#000000","#0000ff","#ff0000"]},"legend":{"orient":"none","legendX":-14,"legendY":-13,"direction":"horizontal","title":null,"symbolSize":0,"symbolOpacity":0,"symbolStrokeWidth":0,"labelOffset":0,"columnPadding":15,"padding":0,"labelFontSize":14,"labelLimit":500,"labelExpr":"datum.value == 'He' ? '4 to 12 MeV/n He' : datum.value == 'CNO' ? '4 to 12 MeV/n CNO' : '4 to 12 MeV Fe'","labelColor":{"expr":"indexof(['eH','H2','CNO'], datum.value) >= 0 ? '#0000ff' : datum.value == 'H3' ? '#c88466' : indexof(['H4','Fe'], datum.value) >= 0 ? '#ff0000' : '#000000'"}}},
"detail":{"field":"c"}}},
{"data":{"name":"ln"},"transform":[{"filter":"datum.p=='B4'"}],"mark":{"type":"line","strokeWidth":2,"clip":true},"encoding":{"x":{"field":"d","type":"quantitative","scale":{"domain":[0,7],"nice":false,"zero":false},"axis":null},"y":{"field":"v","type":"quantitative","scale":{"type":"log","domain":[0.00001,1000],"nice":false},"axis":null},"color":{"field":"s","type":"nominal","scale":{"domain":["He","CNO","Fe"],"range":["#000000","#0000ff","#ff0000"]}},"detail":{"field":"c"}}},
{"data":{"name":"dl"},"transform":[{"filter":"datum.p=='B4'"}],"mark":{"type":"line","strokeWidth":2,"strokeDash":[4,4],"clip":true},"encoding":{"x":{"field":"d","type":"quantitative","scale":{"domain":[0,7],"nice":false,"zero":false},"axis":null},"y":{"field":"v","type":"quantitative","scale":{"type":"log","domain":[0.00001,1000],"nice":false},"axis":null},"color":{"field":"s","type":"nominal","scale":{"domain":["He","CNO","Fe"],"range":["#000000","#0000ff","#ff0000"]}},"detail":{"field":"c"}}},
{"data":{"name":"pt"},"transform":[{"filter":"datum.p=='B4'"}],"mark":{"type":"square","size":5,"opacity":1,"clip":true},"encoding":{"x":{"field":"d","type":"quantitative","scale":{"domain":[0,7],"nice":false,"zero":false},"axis":{"orient":"top","values":[0,0.5,1,1.5,2,2.5,3,3.5,4,4.5,5,5.5,6,6.5,7],"tickSize":-4,"labels":false,"title":null}},"y":{"field":"v","type":"quantitative","scale":{"type":"log","domain":[0.00001,1000],"nice":false},"axis":{"orient":"right","values":[0.0001,0.01,1,100],"tickSize":-6,"labels":false,"title":null}},"color":{"field":"s","type":"nominal","scale":{"domain":["He","CNO","Fe"],"range":["#000000","#0000ff","#ff0000"]}}}}
],"resolve":{"axis":{"x":"independent","y":"independent"}}},
{"width":296,"height":180,"layer":[
{"data":{"name":"bd"},"transform":[{"filter":"datum.p=='A4'"}],"mark":{"type":"area","clip":true},"encoding":{
"x":{"field":"d","type":"quantitative","scale":{"domain":[0,7],"nice":false,"zero":false},"axis":{"orient":"bottom","values":[0,0.5,1,1.5,2,2.5,3,3.5,4,4.5,5,5.5,6,6.5,7],"tickSize":-4,"labelPadding":15,"labelFontSize":13,"labelExpr":"datum.value == 0 ? '19-Apr' : datum.value == 2 ? '21-Apr' : datum.value == 4 ? '23-Apr' : datum.value == 6 ? '25-Apr' : ''","title":"STEREO Ahead","titleAnchor":"end","titlePadding":2}},
"y":{"field":"lo","type":"quantitative","scale":{"type":"log","domain":[0.00001,1000],"nice":false},"axis":{"orient":"left","values":[0.0001,0.01,1,100],"tickSize":-6,"labelPadding":14,"labelExpr":"'10' + replace(replace(replace(replace(replace(replace(replace(replace(replace(''+round(log(datum.value)/LN10),'-','⁻'),'0','⁰'),'1','¹'),'2','²'),'3','³'),'4','⁴'),'5','⁵'),'6','⁶'),'7','⁷')","title":"1/(cm² s sr MeV/nuc.)","titlePadding":2}},
"y2":{"field":"hi"},
"color":{"field":"s","type":"nominal","scale":{"domain":["He","CNO","Fe"],"range":["#000000","#0000ff","#ff0000"]},"legend":null},
"detail":{"field":"c"}}},
{"data":{"name":"ln"},"transform":[{"filter":"datum.p=='A4'"}],"mark":{"type":"line","strokeWidth":2,"clip":true},"encoding":{"x":{"field":"d","type":"quantitative","scale":{"domain":[0,7],"nice":false,"zero":false},"axis":null},"y":{"field":"v","type":"quantitative","scale":{"type":"log","domain":[0.00001,1000],"nice":false},"axis":null},"color":{"field":"s","type":"nominal","scale":{"domain":["He","CNO","Fe"],"range":["#000000","#0000ff","#ff0000"]},"legend":null},"detail":{"field":"c"}}},
{"data":{"name":"dl"},"transform":[{"filter":"datum.p=='A4'"}],"mark":{"type":"line","strokeWidth":2,"strokeDash":[4,4],"clip":true},"encoding":{"x":{"field":"d","type":"quantitative","scale":{"domain":[0,7],"nice":false,"zero":false},"axis":null},"y":{"field":"v","type":"quantitative","scale":{"type":"log","domain":[0.00001,1000],"nice":false},"axis":null},"color":{"field":"s","type":"nominal","scale":{"domain":["He","CNO","Fe"],"range":["#000000","#0000ff","#ff0000"]},"legend":null},"detail":{"field":"c"}}},
{"data":{"name":"pt"},"transform":[{"filter":"datum.p=='A4'"}],"mark":{"type":"square","size":5,"opacity":1,"clip":true},"encoding":{"x":{"field":"d","type":"quantitative","scale":{"domain":[0,7],"nice":false,"zero":false},"axis":{"orient":"top","values":[0,0.5,1,1.5,2,2.5,3,3.5,4,4.5,5,5.5,6,6.5,7],"tickSize":-4,"labels":false,"title":null}},"y":{"field":"v","type":"quantitative","scale":{"type":"log","domain":[0.00001,1000],"nice":false},"axis":{"orient":"right","values":[0.0001,0.01,1,100],"tickSize":-6,"labels":false,"title":null}},"color":{"field":"s","type":"nominal","scale":{"domain":["He","CNO","Fe"],"range":["#000000","#0000ff","#ff0000"]},"legend":null}}}
],"resolve":{"axis":{"x":"independent","y":"independent"}}}
]
}
